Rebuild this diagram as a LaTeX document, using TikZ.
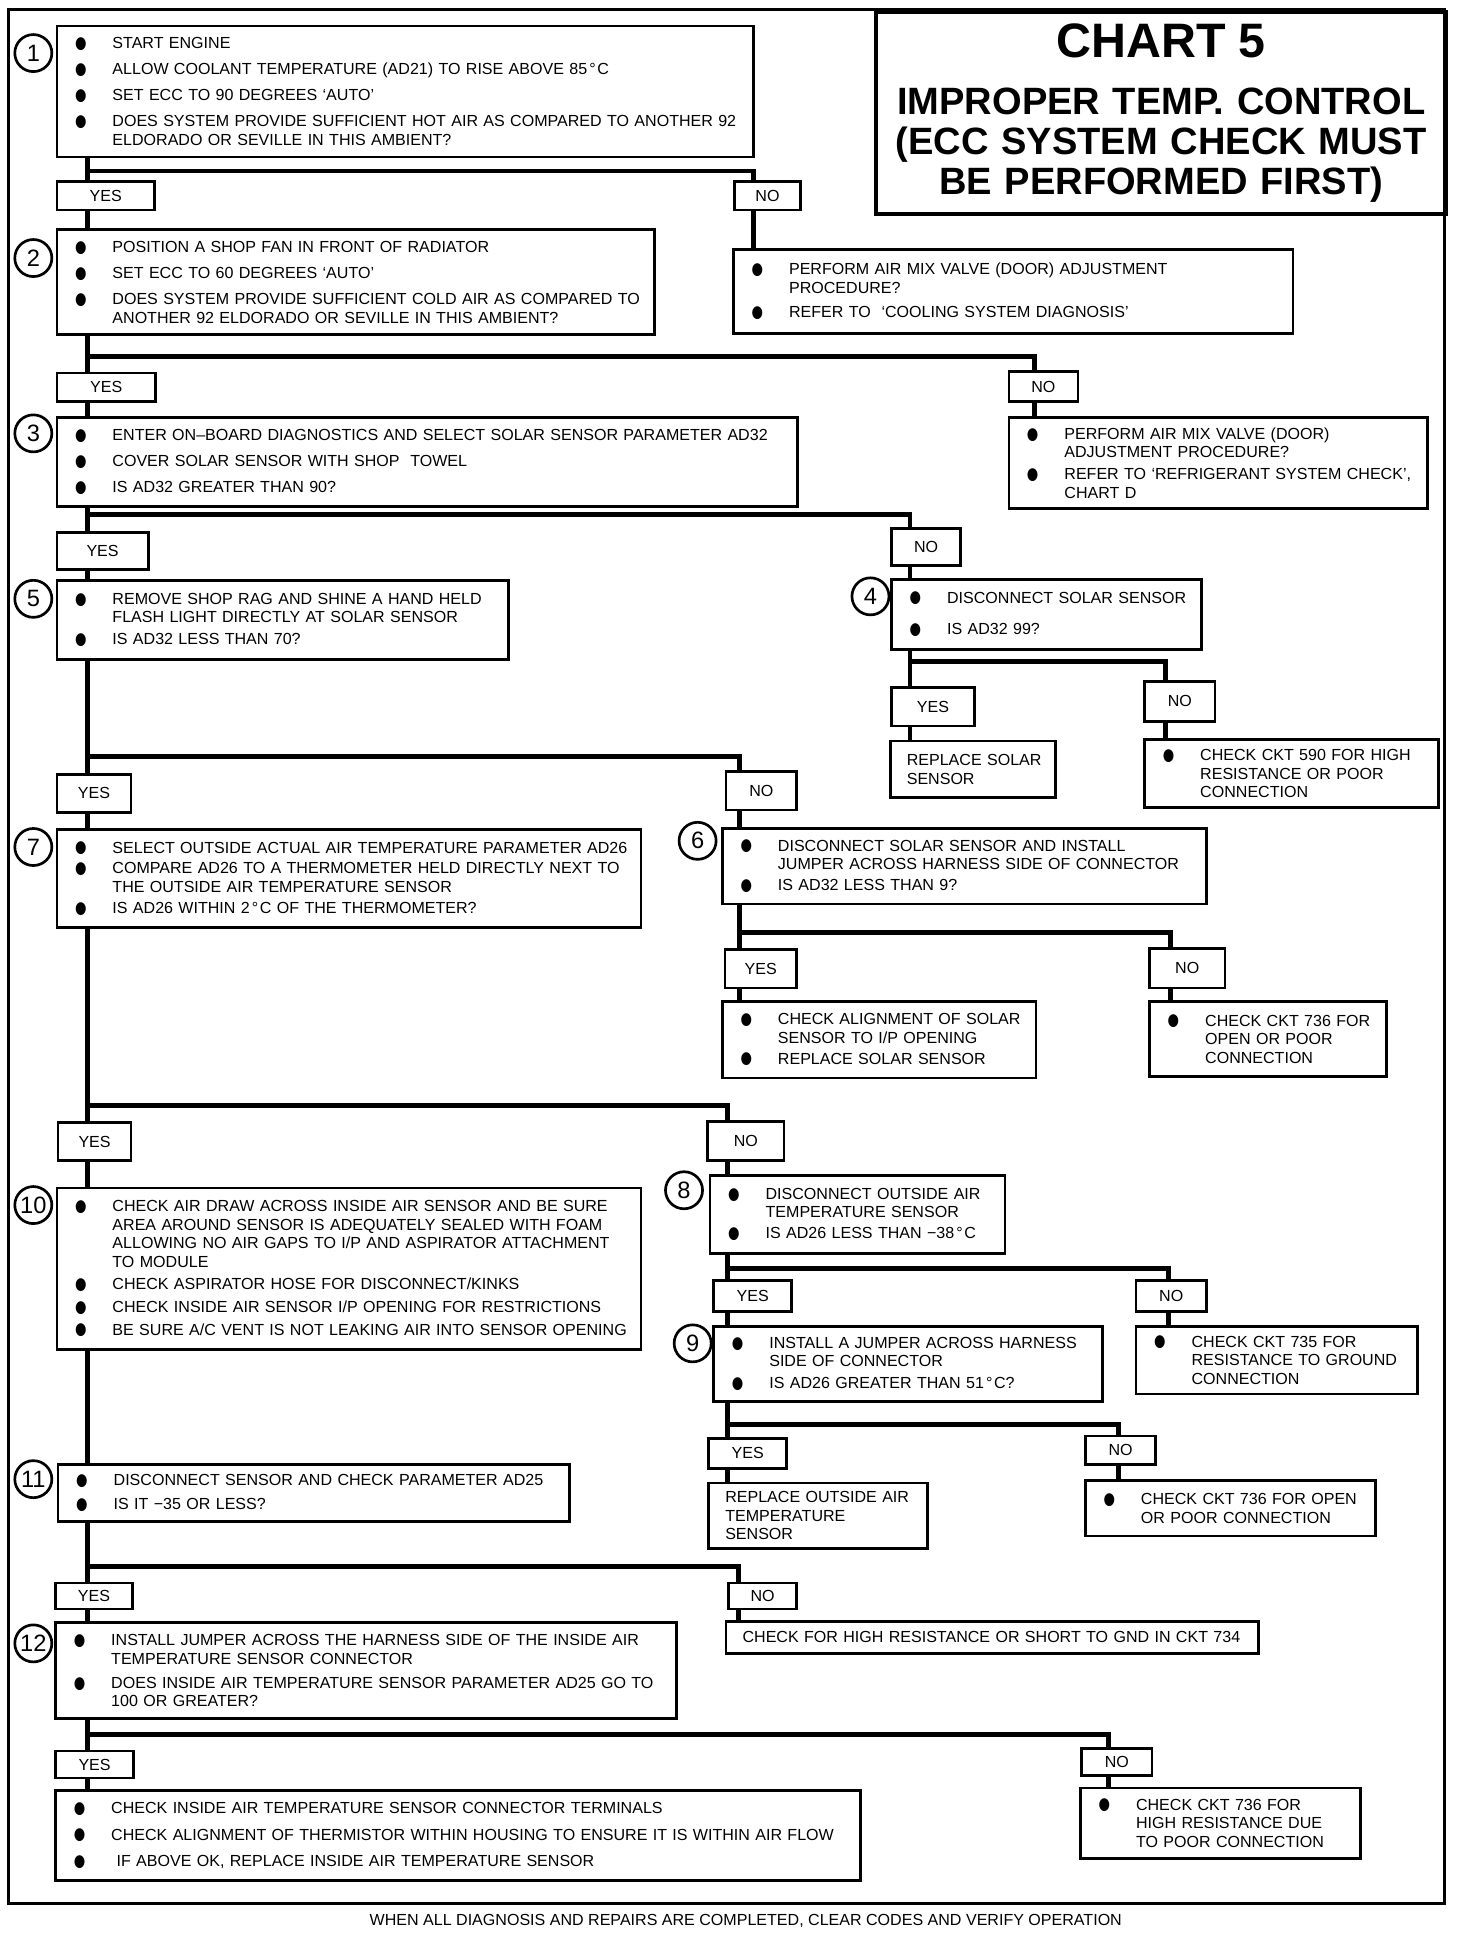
\documentclass[tikz,border=0pt]{standalone}
\usepackage{fontspec}
\setmainfont{Liberation Sans}
\newfontfamily\bulfont{DejaVu Sans}
\usepackage{graphicx}
\usetikzlibrary{backgrounds}

% sizes are given in picture units (1 unit = 0.6pt)
\tikzset{
  wh/.code 2 args={\pgfmathsetlengthmacro\bw{#1*0.6}\pgfmathsetlengthmacro\bh{#2*0.6}%
    \edef\next{\noexpand\pgfkeysalso{minimum width=\bw,minimum height=\bh}}\next},
  tw/.code 2 args={\pgfmathsetlengthmacro\bw{#1*0.6}\pgfmathsetlengthmacro\bh{#2*0.6}%
    \edef\next{\noexpand\pgfkeysalso{text width=\bw,minimum width=\bw,minimum height=\bh}}\next}
}

\begin{document}
\begin{tikzpicture}[x=0.6pt,y=-0.6pt]
    \tikzstyle{txt}=[font=\fontsize{7.8}{9}\selectfont]
    \tikzstyle{stepbox}=[draw, line width=1.3pt, fill=white, inner sep=0pt, anchor=north west, align=left, txt]
    \tikzstyle{tag}=[draw, line width=1.3pt, fill=white, inner sep=0pt, anchor=north west, txt]
    \tikzstyle{num}=[draw, circle, line width=1.3pt, fill=white, minimum size=18pt, inner sep=0pt, font=\fontsize{11.5}{11.5}\selectfont]
    \tikzstyle{titlebox}=[draw, line width=1.8pt, inner sep=0pt, anchor=north west, align=center, font=\bfseries\fontsize{18.5}{19.5}\selectfont]
    \tikzstyle{link}=[line width=2.4pt]
    \tikzstyle{outline}=[line width=1.4pt]
  \def\bdot{\raisebox{0.1pt}{\scalebox{0.82}[1.05]{\bulfont ●}}}
  \def\bul#1{\makebox[27pt][l]{\hspace{8.8pt}\bdot}\mbox{#1}}
  \def\cnt#1{\hspace*{27pt}\mbox{#1}}
  \def\pl#1{\hspace*{8pt}\mbox{#1}}
  \def\deg{\kern1pt°\kern.8pt}

  \useasboundingbox (0,0) rectangle (1192,1568);

  % title
  \node[titlebox, tw={462}{164}] (title) at (708,8)
    {{\fontsize{23.5}{23.5}\selectfont CHART 5}\\[8pt]
     IMPROPER TEMP. CONTROL\\
     (ECC SYSTEM CHECK MUST\\
     BE PERFORMED FIRST)};

  % step boxes
  \node[stepbox, tw={564}{106}] (s1) at (45,20) {%
    \bul{START ENGINE}\\[3.7pt]
    \bul{ALLOW COOLANT TEMPERATURE (AD21) TO RISE ABOVE 85\deg C}\\[3.7pt]
    \bul{SET ECC TO 90 DEGREES `AUTO'}\\[3.7pt]
    \bul{DOES SYSTEM PROVIDE SUFFICIENT HOT AIR AS COMPARED TO ANOTHER 92}\\
    \cnt{ELDORADO OR SEVILLE IN THIS AMBIENT?}};
  \node[stepbox, tw={484}{85}] (s2) at (45,185) {%
    \bul{POSITION A SHOP FAN IN FRONT OF RADIATOR}\\[3.7pt]
    \bul{SET ECC TO 60 DEGREES `AUTO'}\\[3.7pt]
    \bul{DOES SYSTEM PROVIDE SUFFICIENT COLD AIR AS COMPARED TO}\\
    \cnt{ANOTHER 92 ELDORADO OR SEVILLE IN THIS AMBIENT?}};
  \node[stepbox, tw={453}{68}] (rAir1) at (593,201) {%
    \bul{PERFORM AIR MIX VALVE (DOOR) ADJUSTMENT}\\
    \cnt{PROCEDURE?}\\[2.8pt]
    \bul{REFER TO\ \ `COOLING SYSTEM DIAGNOSIS'}};
  \node[stepbox, tw={339}{74}] (rAir2) at (816,337) {%
    \bul{PERFORM AIR MIX VALVE (DOOR)}\\
    \cnt{ADJUSTMENT PROCEDURE?}\\[1.6pt]
    \bul{REFER TO `REFRIGERANT SYSTEM CHECK',}\\
    \cnt{CHART D}};
  \node[stepbox, tw={600}{72}] (s3) at (45,337) {%
    \bul{ENTER ON–BOARD DIAGNOSTICS AND SELECT SOLAR SENSOR PARAMETER AD32}\\[3.7pt]
    \bul{COVER SOLAR SENSOR WITH SHOP\ \ TOWEL}\\[3.7pt]
    \bul{IS AD32 GREATER THAN 90?}};
  \node[stepbox, tw={251}{57}] (s4) at (721,468) {%
    \bul{DISCONNECT SOLAR SENSOR}\\[6.4pt]
    \bul{IS AD32 99?}};
  \node[stepbox, tw={366}{64}] (s5) at (45,469) {%
    \bul{REMOVE SHOP RAG AND SHINE A HAND HELD}\\
    \cnt{FLASH LIGHT DIRECTLY AT SOLAR SENSOR}\\[1.6pt]
    \bul{IS AD32 LESS THAN 70?}};
  \node[stepbox, tw={134}{46}] (rSolar) at (720,599) {%
    \pl{REPLACE SOLAR}\\
    \pl{SENSOR}};
  \node[stepbox, tw={238}{55}] (rCkt590) at (926,598) {%
    \bul{CHECK CKT 590 FOR HIGH}\\
    \cnt{RESISTANCE OR POOR}\\
    \cnt{CONNECTION}};
  \node[stepbox, tw={473}{79}] (s7) at (45,671) {%
    \bul{SELECT OUTSIDE ACTUAL AIR TEMPERATURE PARAMETER AD26}\\[1pt]
    \bul{COMPARE AD26 TO A THERMOMETER HELD DIRECTLY NEXT TO}\\
    \cnt{THE OUTSIDE AIR TEMPERATURE SENSOR}\\[1.4pt]
    \bul{IS AD26 WITHIN 2\deg C OF THE THERMOMETER?}};
  \node[stepbox, tw={392}{61}] (s6) at (584,670) {%
    \bul{DISCONNECT SOLAR SENSOR AND INSTALL}\\
    \cnt{JUMPER ACROSS HARNESS SIDE OF CONNECTOR}\\[1.2pt]
    \bul{IS AD32 LESS THAN 9?}};
  \node[stepbox, tw={254}{62}] (rAlign) at (584,810) {%
    \bul{CHECK ALIGNMENT OF SOLAR}\\
    \cnt{SENSOR TO I/P OPENING}\\[1.2pt]
    \bul{REPLACE SOLAR SENSOR}};
  \node[stepbox, tw={192}{61}] (rCkt736a) at (930,810) {%
    \bul{CHECK CKT 736 FOR}\\
    \cnt{OPEN OR POOR}\\
    \cnt{CONNECTION}};
  \node[stepbox, tw={473}{131}] (s10) at (45,961) {%
    \bul{CHECK AIR DRAW ACROSS INSIDE AIR SENSOR AND BE SURE}\\
    \cnt{AREA AROUND SENSOR IS ADEQUATELY SEALED WITH FOAM}\\
    \cnt{ALLOWING NO AIR GAPS TO I/P AND ASPIRATOR ATTACHMENT}\\
    \cnt{TO MODULE}\\[2pt]
    \bul{CHECK ASPIRATOR HOSE FOR DISCONNECT/KINKS}\\[2pt]
    \bul{CHECK INSIDE AIR SENSOR I/P OPENING FOR RESTRICTIONS}\\[2pt]
    \bul{BE SURE A/C VENT IS NOT LEAKING AIR INTO SENSOR OPENING}};
  \node[stepbox, tw={239}{63}] (s8) at (574,951) {%
    \bul{DISCONNECT OUTSIDE AIR}\\
    \cnt{TEMPERATURE SENSOR}\\[1.2pt]
    \bul{IS AD26 LESS THAN −38\deg C}};
  \node[stepbox, tw={315}{61}] (s9) at (577,1073) {%
    \bul{INSTALL A JUMPER ACROSS HARNESS}\\
    \cnt{SIDE OF CONNECTOR}\\[1.6pt]
    \bul{IS AD26 GREATER THAN 51\deg C?}};
  \node[stepbox, tw={228}{55}] (rCkt735) at (919,1073) {%
    \bul{CHECK CKT 735 FOR}\\
    \cnt{RESISTANCE TO GROUND}\\
    \cnt{CONNECTION}};
  \node[stepbox, tw={177}{53}] (rOutside) at (573,1200) {%
    \pl{REPLACE OUTSIDE AIR}\\
    \pl{TEMPERATURE}\\
    \pl{SENSOR}};
  \node[stepbox, tw={235}{45}] (rCkt736b) at (878,1198) {%
    \bul{CHECK CKT 736 FOR OPEN}\\
    \cnt{OR POOR CONNECTION}};
  \node[stepbox, tw={414}{46}] (s11) at (46,1185) {%
    \bul{DISCONNECT SENSOR AND CHECK PARAMETER AD25}\\[2.8pt]
    \bul{IS IT −35 OR LESS?}};
  \node[stepbox, tw={431}{26}] (rCkt734) at (587,1312) {%
    \pl{CHECK FOR HIGH RESISTANCE OR SHORT TO GND IN CKT 734}};
  \node[stepbox, tw={503}{78}] (s12) at (44,1313) {%
    \bul{INSTALL JUMPER ACROSS THE HARNESS SIDE OF THE INSIDE AIR}\\
    \cnt{TEMPERATURE SENSOR CONNECTOR}\\[2.8pt]
    \bul{DOES INSIDE AIR TEMPERATURE SENSOR PARAMETER AD25 GO TO}\\
    \cnt{100 OR GREATER?}};
  \node[stepbox, tw={652}{73}] (rFinal) at (44,1449) {%
    \bul{CHECK INSIDE AIR TEMPERATURE SENSOR CONNECTOR TERMINALS}\\[4pt]
    \bul{CHECK ALIGNMENT OF THERMISTOR WITHIN HOUSING TO ENSURE IT IS WITHIN AIR FLOW}\\[4pt]
    \bul{\ IF ABOVE OK, REPLACE INSIDE AIR TEMPERATURE SENSOR}};
  \node[stepbox, tw={227}{57}] (rCkt736c) at (874,1447) {%
    \bul{CHECK CKT 736 FOR}\\
    \cnt{HIGH RESISTANCE DUE}\\
    \cnt{TO POOR CONNECTION}};

  % step numbers
  \foreach \n/\x/\y in {1/27/43, 2/27/209, 3/27/351, 5/27/485, 7/27/686, 10/27/976,
                        11/27/1198, 12/27/1331, 4/705/483, 6/565/681, 8/554/964, 9/561/1088}
    \node[num] (c\n) at (\x,\y) {\n};

  % yes / no tags
  \foreach \t/\l/\x/\y/\w/\h in {y1/YES/45/146/79/23, n1/NO/594/146/53/23,
      y2/YES/45/301/80/23, n2/NO/816/300/56/24, y3/YES/45/430/74/30, n3/NO/721/427/56/30,
      y4/YES/721/556/67/31, n4/NO/926/551/57/32, y5/YES/45/626/60/31, n5/NO/587/624/57/31,
      y6/YES/586/768/58/31, n6/NO/930/767/61/32, y7/YES/46/908/59/31, n7/NO/572/907/62/32,
      y8/YES/577/1036/63/25, n8/NO/919/1036/57/25, y9/YES/573/1164/63/24, n9/NO/878/1162/57/23,
      y10/YES/44/1281/62/21, n10/NO/589/1281/55/21, y11/YES/44/1417/63/22, n11/NO/875/1415/57/22}
    \node[tag, wh={\w}{\h}] (\t) at (\x,\y) {\l};

  % branch points
  \coordinate (j1) at (71,138.5);  \coordinate (k1) at (610,138.5);
  \coordinate (j2) at (71,289);    \coordinate (k2) at (838,289);
  \coordinate (j3) at (71,417);    \coordinate (k3) at (737,417);
  \coordinate (j4) at (737,536);   \coordinate (k4) at (944,536);
  \coordinate (j5) at (71,613);    \coordinate (k5) at (599,613);
  \coordinate (j6) at (599,755);   \coordinate (k6) at (948,755);
  \coordinate (j7) at (71,895);    \coordinate (k7) at (589,895);
  \coordinate (j8) at (589,1027);  \coordinate (k8) at (946,1027);
  \coordinate (j9) at (589,1154);  \coordinate (k9) at (906,1154);
  \coordinate (j10) at (71,1269);  \coordinate (k10) at (598,1269);
  \coordinate (j11) at (71,1405);  \coordinate (k11) at (898,1405);

  \begin{scope}[on background layer]
    % main trunk
    \draw[link] (j1 |- s1.south) -- (j1 |- s2.north);
    \draw[link] (j1 |- s2.south) -- (j1 |- s3.north);
    \draw[link] (j1 |- s3.south) -- (j1 |- s5.north);
    \draw[link] (j1 |- s5.south) -- (j1 |- s7.north);
    \draw[link] (j1 |- s7.south) -- (j1 |- s10.north);
    \draw[link] (j1 |- s10.south) -- (j1 |- s11.north);
    \draw[link] (j1 |- s11.south) -- (j1 |- s12.north);
    \draw[link] (j1 |- s12.south) -- (j1 |- rFinal.north);
    % branches
    \draw[link] (j1) -- (k1) -- (k1 |- rAir1.north);
    \draw[link] (j2) -- (k2) -- (k2 |- rAir2.north);
    \draw[link] (j3) -- (k3) -- (k3 |- s4.north);
    \draw[link] (k3 |- s4.south) -- (j4) -- (j4 |- rSolar.north);
    \draw[link] (j4) -- (k4) -- (k4 |- rCkt590.north);
    \draw[link] (j5) -- (k5) -- (k5 |- s6.north);
    \draw[link] (k5 |- s6.south) -- (j6) -- (j6 |- rAlign.north);
    \draw[link] (j6) -- (k6) -- (k6 |- rCkt736a.north);
    \draw[link] (j7) -- (k7) -- (k7 |- s8.north);
    \draw[link] (k7 |- s8.south) -- (j8) -- (j8 |- s9.north);
    \draw[link] (j8) -- (k8) -- (k8 |- rCkt735.north);
    \draw[link] (j8 |- s9.south) -- (j9) -- (j9 |- rOutside.north);
    \draw[link] (j9) -- (k9) -- (k9 |- rCkt736b.north);
    \draw[link] (j10) -- (k10) -- (k10 |- rCkt734.north);
    \draw[link] (j11) -- (k11) -- (k11 |- rCkt736c.north);
  \end{scope}

  \draw[outline] (7,8) rectangle (1170,1542);
  \node[txt] (foot) at (604,1556) {WHEN ALL DIAGNOSIS AND REPAIRS ARE COMPLETED, CLEAR CODES AND VERIFY OPERATION};

\end{tikzpicture}
\end{document}
